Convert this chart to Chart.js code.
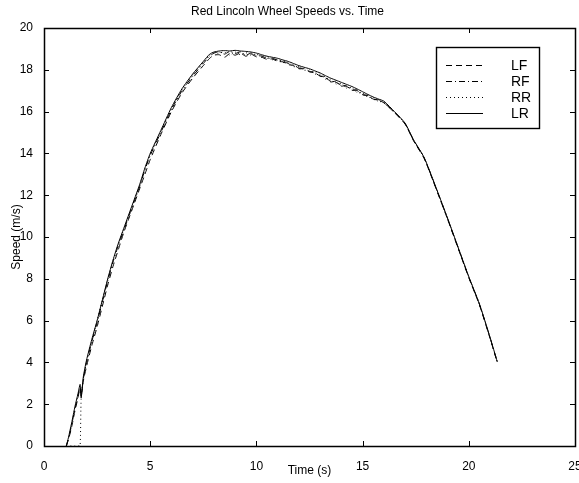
<!DOCTYPE html>
<html>
<head>
<meta charset="utf-8">
<script src="https://cdn.jsdelivr.net/npm/chart.js@4/dist/chart.umd.min.js"></script>
<style>
  body { margin: 0; background: #fff; }
</style>
</head>
<body>
<canvas id="speedChart" width="579" height="483"></canvas>
<script>
var seriesNames = ["LF", "RF", "RR", "LR"];

var time = [1.05, 1.15, 1.3, 1.46, 1.6, 1.7, 1.75, 1.85, 2.0,
  2.25, 2.5, 2.75, 3.0, 3.25, 3.5, 3.75, 4.0, 4.25, 4.5, 4.75, 5.0,
  5.5, 6.0, 6.5, 7.0, 7.5, 7.8, 8.0,
  8.25, 8.5, 8.75, 9.0, 9.25, 9.5, 9.75, 10.0, 10.25, 10.5, 10.75, 11.0,
  11.25, 11.5, 11.75, 12.0, 12.25, 12.5, 12.75, 13.0, 13.25, 13.5, 13.75, 14.0,
  14.25, 14.5, 14.75, 15.0, 15.25, 15.5, 15.75, 16.0,
  16.5, 17.0, 17.4, 17.9, 18.5, 19.0, 19.5, 20.0, 20.5, 21.0, 21.34];

var speedLF = [0, 0.3, 0.9, 1.7, 2.3, 2.8, 2.4, 3.1, 3.8,
  4.8, 5.7, 6.7, 7.7, 8.6, 9.4, 10.2, 10.9, 11.6, 12.3, 13.0, 13.7,
  14.9, 16.0, 16.9, 17.6, 18.2, 18.55, 18.7,
  18.72, 18.6, 18.78, 18.7, 18.8, 18.65, 18.75, 18.62, 18.6, 18.5, 18.52, 18.4,
  18.38, 18.25, 18.2, 18.05, 18.05, 17.9, 17.85, 17.7, 17.62, 17.45, 17.4, 17.25,
  17.2, 17.05, 17.0, 16.82, 16.75, 16.6, 16.55, 16.42,
  15.95, 15.4, 14.6, 13.75, 12.2, 10.85, 9.45, 8.05, 6.75, 5.15, 4.0];

var speedRF = [0, 0.35, 1.0, 1.8, 2.4, 2.85, 2.35, 3.2, 4.0,
  5.0, 5.9, 6.9, 7.9, 8.8, 9.6, 10.3, 11.0, 11.7, 12.4, 13.2, 13.9,
  15.0, 16.1, 17.0, 17.7, 18.3, 18.65, 18.8,
  18.85, 18.75, 18.88, 18.78, 18.86, 18.7, 18.8, 18.68, 18.66, 18.55, 18.56, 18.45,
  18.42, 18.3, 18.24, 18.08, 18.1, 17.92, 17.9, 17.7, 17.68, 17.42, 17.45, 17.22,
  17.25, 17.02, 17.04, 16.8, 16.78, 16.58, 16.57, 16.42,
  15.98, 15.42, 14.62, 13.78, 12.22, 10.88, 9.48, 8.08, 6.78, 5.18, 4.02];

var speedRR = [0, 0, 0, 0, 0, 0, 2.3, 3.2, 4.0,
  5.0, 6.0, 7.0, 7.95, 8.85, 9.65, 10.35, 11.05, 11.75, 12.45, 13.25, 13.95,
  15.05, 16.15, 17.05, 17.75, 18.35, 18.7, 18.8,
  18.8, 18.85, 18.7, 18.85, 18.72, 18.82, 18.7, 18.75, 18.6, 18.6, 18.48, 18.5,
  18.35, 18.35, 18.15, 18.15, 17.98, 18.0, 17.8, 17.78, 17.55, 17.55, 17.32, 17.35,
  17.12, 17.15, 16.9, 16.9, 16.68, 16.68, 16.48, 16.47,
  15.97, 15.43, 14.63, 13.79, 12.23, 10.89, 9.49, 8.09, 6.79, 5.19, 4.03];

var speedLR = [0, 0.4, 1.1, 1.9, 2.5, 2.95, 2.3, 3.3, 4.1,
  5.1, 6.0, 7.0, 8.0, 8.9, 9.7, 10.4, 11.1, 11.8, 12.5, 13.3, 14.0,
  15.1, 16.2, 17.1, 17.8, 18.4, 18.75, 18.85,
  18.9, 18.92, 18.9, 18.93, 18.9, 18.88, 18.85, 18.8, 18.72, 18.65, 18.6, 18.55,
  18.47, 18.4, 18.3, 18.2, 18.12, 18.05, 17.95, 17.85, 17.72, 17.6, 17.5, 17.4,
  17.3, 17.2, 17.08, 16.95, 16.82, 16.7, 16.6, 16.5,
  16.0, 15.45, 14.65, 13.8, 12.25, 10.9, 9.5, 8.1, 6.8, 5.2, 4.03];

var xTicks = [0, 5, 10, 15, 20, 25];
var yTicks = [0, 2, 4, 6, 8, 10, 12, 14, 16, 18, 20];

var dashes = [[6, 4], [6, 3, 1, 3], [1, 3], []];
var allSpeeds = [speedLF, speedRF, speedRR, speedLR];

function points(values) {
  return time.map(function (t, i) { return { x: t, y: values[i] }; });
}

var datasets = seriesNames.map(function (name, i) {
  return {
    label: name,
    data: points(allSpeeds[i]),
    borderColor: "#000",
    borderWidth: 1,
    borderDash: dashes[i],
    pointRadius: 0,
    fill: false,
    tension: 0.2
  };
});

var font = { family: "'Liberation Sans', Arial, sans-serif", size: 12 };

// matlab style frame, inward ticks and boxed legend
var matlabFrame = {
  id: "matlabFrame",
  afterDatasetsDraw: function (chart) {
    var ctx = chart.ctx, a = chart.chartArea;
    var left = Math.round(a.right) - 139, top = Math.round(a.top) + 19;
    var w = 103, h = 81;
    ctx.save();
    ctx.fillStyle = "#fff";
    ctx.fillRect(left, top, w, h);
    ctx.strokeStyle = "#000";
    ctx.lineWidth = 1.4;
    ctx.strokeRect(left + 0.5, top + 0.5, w, h);
    ctx.lineWidth = 1;
    ctx.font = "14px " + font.family;
    ctx.textBaseline = "middle";
    ctx.fillStyle = "#000";
    chart.data.datasets.forEach(function (ds, i) {
      var ly = top + 18.5 + i * 16;
      ctx.setLineDash(ds.borderDash);
      ctx.beginPath();
      ctx.moveTo(left + 10, ly);
      ctx.lineTo(left + 47, ly);
      ctx.stroke();
      ctx.fillText(ds.label, left + 75, ly + 1);
    });
    ctx.restore();
  },
  afterDraw: function (chart) {
    var ctx = chart.ctx, a = chart.chartArea;
    var xs = chart.scales.x, ys = chart.scales.y;
    ctx.save();
    ctx.strokeStyle = "#000";
    ctx.lineWidth = 1.5;
    ctx.setLineDash([]);
    ctx.strokeRect(Math.round(a.left) + 0.5, Math.round(a.top) + 0.5,
      Math.round(a.right - a.left), Math.round(a.bottom - a.top));
    ctx.lineWidth = 1;
    ctx.beginPath();
    xTicks.forEach(function (v) {
      var px = Math.round(xs.getPixelForValue(v)) + 0.5;
      ctx.moveTo(px, a.bottom); ctx.lineTo(px, a.bottom - 5);
      ctx.moveTo(px, a.top); ctx.lineTo(px, a.top + 5);
    });
    yTicks.forEach(function (v) {
      var py = Math.round(ys.getPixelForValue(v)) + 0.5;
      ctx.moveTo(a.left, py); ctx.lineTo(a.left + 5, py);
      ctx.moveTo(a.right, py); ctx.lineTo(a.right - 5, py);
    });
    ctx.stroke();
    ctx.restore();
  }
};

new Chart(document.getElementById("speedChart"), {
  type: "line",
  data: { datasets: datasets },
  options: {
    responsive: false,
    animation: false,
    layout: { padding: { left: 0, right: 4, top: 0, bottom: 0 } },
    plugins: {
      legend: { display: false },
      tooltip: { enabled: false },
      title: {
        display: true,
        text: "Red Lincoln Wheel Speeds vs. Time",
        color: "#000",
        font: { family: font.family, size: 12, weight: "normal" },
        padding: { top: 4, bottom: 9.6 }
      }
    },
    scales: {
      x: {
        type: "linear",
        min: 0, max: 25,
        afterBuildTicks: function (s) { s.ticks = xTicks.map(function (v) { return { value: v }; }); },
        ticks: { color: "#000", font: font, padding: 5, maxRotation: 0 },
        grid: { display: false },
        border: { display: false },
        title: { display: true, text: "Time (s)", color: "#000", font: font, padding: { top: 0, bottom: 4.8 } },
        afterFit: function (s) { s.height = 37; s.paddingLeft = 0; s.paddingRight = 0; }
      },
      y: {
        type: "linear",
        min: 0, max: 20,
        afterBuildTicks: function (s) { s.ticks = yTicks.map(function (v) { return { value: v }; }); },
        ticks: { color: "#000", font: font, padding: 3 },
        grid: { display: false },
        border: { display: false },
        title: { display: true, text: "Speed (m/s)", color: "#000", font: font, padding: { top: 9.8, bottom: 0 } },
        afterFit: function (s) { s.width = 44; s.paddingTop = 0; s.paddingBottom = 0; }
      }
    }
  },
  plugins: [matlabFrame]
});
</script>
</body>
</html>
